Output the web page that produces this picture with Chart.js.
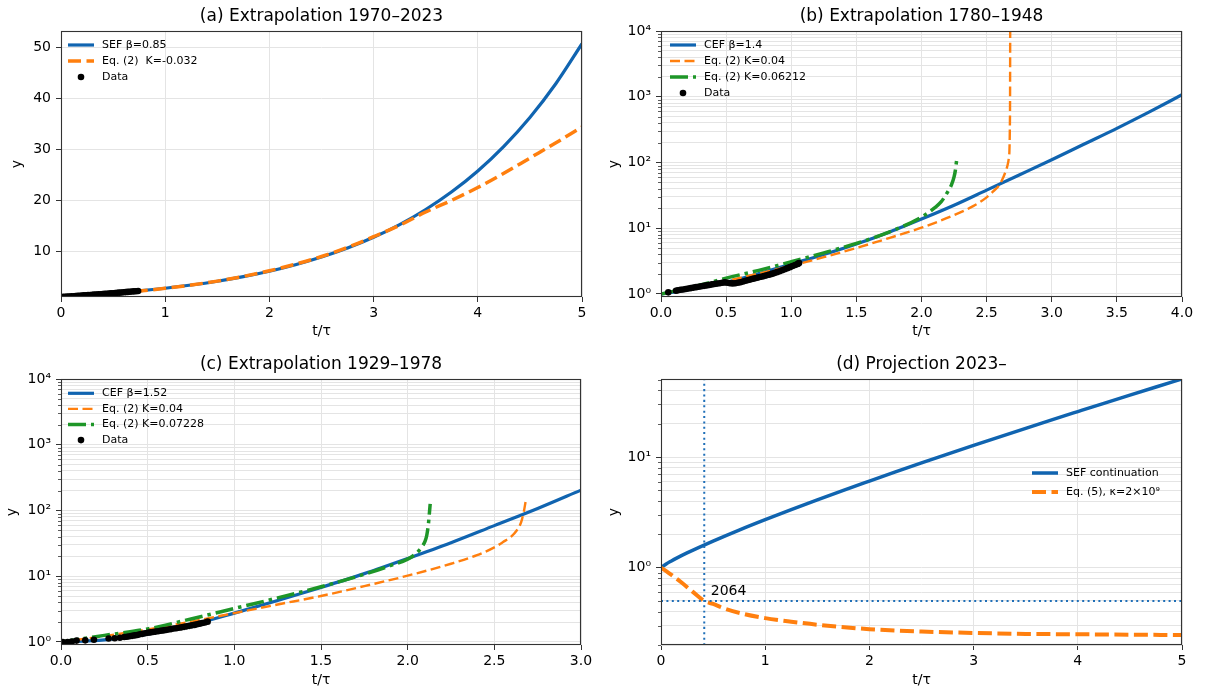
<!DOCTYPE html>
<html>
<head>
<meta charset="utf-8">
<script src="https://cdn.jsdelivr.net/npm/chart.js@4/dist/chart.umd.min.js"></script>
<style>
html,body{margin:0;padding:0;background:#fff;}
#wrap{position:relative;width:1205px;height:690px;overflow:hidden;background:#fff;}
canvas{position:absolute;}
</style>
</head>
<body>
<div id="wrap">
<canvas id="cA" width="600" height="340" style="left:0px;top:0px"></canvas>
<canvas id="cB" width="605" height="340" style="left:600px;top:0px"></canvas>
<canvas id="cC" width="600" height="350" style="left:0px;top:340px"></canvas>
<canvas id="cD" width="605" height="350" style="left:600px;top:340px"></canvas>
</div>
<script>
// ================= DATA =================
// Panel (a) Extrapolation 1970–2023
const titleA = '(a) Extrapolation 1970–2023';
const sefT = [0, 0.05, 0.1, 0.15, 0.25, 0.5, 0.75, 1, 1.25, 1.5, 1.75, 2, 2.25, 2.5, 2.75, 3, 3.25, 3.5, 3.75, 4, 4.25, 4.5, 4.75, 5];
const sefY = [1, 1.08, 1.15, 1.22, 1.36, 1.74, 2.19, 2.72, 3.35, 4.10, 5.00, 6.06, 7.33, 8.84, 10.62, 12.73, 15.23, 18.19, 21.67, 25.76, 30.60, 36.27, 42.94, 50.75];
const eq2aT = [0, 0.25, 0.5, 0.75, 1, 1.25, 1.5, 1.75, 2, 2.25, 2.5, 2.75, 3, 3.25, 3.5, 3.75, 4, 4.25, 4.5, 4.75, 5];
const eq2aY = [1, 1.33, 1.72, 2.17, 2.7, 3.35, 4.12, 5.05, 6.15, 7.45, 8.95, 10.75, 12.85, 15.1, 17.7, 20.0, 22.5, 25.3, 28.3, 31.3, 34.4];
const dataAT = [0, 0.02, 0.04, 0.06, 0.08, 0.10, 0.12, 0.14, 0.16, 0.18, 0.20, 0.22, 0.24, 0.26, 0.28, 0.30, 0.32, 0.34, 0.36, 0.38, 0.40, 0.42, 0.44, 0.46, 0.48, 0.50, 0.52, 0.54, 0.56, 0.58, 0.60, 0.62, 0.64, 0.66, 0.68, 0.70, 0.72, 0.74];
const dataAY = [1.00, 1.03, 1.05, 1.08, 1.11, 1.13, 1.16, 1.19, 1.22, 1.25, 1.28, 1.31, 1.33, 1.36, 1.40, 1.43, 1.46, 1.49, 1.52, 1.55, 1.58, 1.62, 1.65, 1.68, 1.72, 1.75, 1.78, 1.82, 1.85, 1.89, 1.92, 1.96, 2.00, 2.03, 2.07, 2.11, 2.14, 2.18];
const labelsA = ['SEF β=0.85', 'Eq. (2)  K=-0.032', 'Data'];
const xTicksA = [0, 1, 2, 3, 4, 5];
const yTicksA = [10, 20, 30, 40, 50];
const xRangeA = [0, 5];
const yRangeA = [1, 53.25];

// Panel (b) Extrapolation 1780–1948
const titleB = '(b) Extrapolation 1780–1948';
const cefBT = [0, 0.25, 0.5, 0.75, 1, 1.25, 1.5, 1.75, 2, 2.25, 2.5, 2.75, 3, 3.25, 3.5, 3.75, 4];
const cefBY = [1, 1.20, 1.51, 2.04, 2.85, 3.98, 5.75, 8.71, 13.8, 22.4, 38.0, 64.6, 110, 191, 331, 589, 1072];
const eq2bT = [0, 0.25, 0.5, 0.75, 1, 1.25, 1.5, 1.75, 2, 2.25, 2.4, 2.5, 2.55, 2.6, 2.62, 2.64, 2.66, 2.67, 2.675, 2.678, 2.68, 2.681];
const eq2bY = [1, 1.23, 1.58, 2.04, 2.69, 3.63, 5.01, 7.08, 10.2, 15.8, 21.9, 29.5, 36.3, 46, 55, 68, 90, 115, 150, 300, 1000, 12000];
const eq2gBT = [0, 0.25, 0.5, 0.75, 1, 1.25, 1.5, 1.75, 2, 2.1, 2.15, 2.2, 2.23, 2.25, 2.26, 2.27];
const eq2gBY = [1, 1.29, 1.74, 2.29, 3.09, 4.22, 5.89, 8.71, 14.8, 20.4, 25.1, 35.5, 45.7, 60.3, 75.9, 109.6];
const dataBT = [0.056, 0.115, 0.13, 0.15, 0.17, 0.19, 0.21, 0.23, 0.25, 0.27, 0.29, 0.31, 0.33, 0.35, 0.37, 0.39, 0.41, 0.43, 0.45, 0.47, 0.49, 0.51, 0.53, 0.55, 0.57, 0.59, 0.61, 0.63, 0.65, 0.67, 0.69, 0.71, 0.73, 0.75, 0.77, 0.79, 0.81, 0.83, 0.85, 0.87, 0.89, 0.91, 0.93, 0.95, 0.97, 0.99, 1.01, 1.03, 1.05, 1.06];
const dataBY = [1.06, 1.12, 1.14, 1.16, 1.17, 1.19, 1.21, 1.23, 1.25, 1.27, 1.29, 1.31, 1.33, 1.35, 1.37, 1.40, 1.42, 1.44, 1.46, 1.48, 1.50, 1.48, 1.46, 1.45, 1.46, 1.48, 1.51, 1.55, 1.59, 1.63, 1.67, 1.71, 1.75, 1.79, 1.83, 1.87, 1.92, 1.97, 2.02, 2.08, 2.15, 2.22, 2.30, 2.38, 2.47, 2.56, 2.66, 2.76, 2.87, 2.95];
const labelsB = ['CEF β=1.4', 'Eq. (2) K=0.04', 'Eq. (2) K=0.06212', 'Data'];
const xTicksB = [0, 0.5, 1, 1.5, 2, 2.5, 3, 3.5, 4];
const decadesB = [1, 10, 100, 1000, 10000];
const xRangeB = [0, 4];
const yRangeB = [0.9, 10000];

// Panel (c) Extrapolation 1929–1978
const titleC = '(c) Extrapolation 1929–1978';
const cefCT = [0, 0.25, 0.5, 0.75, 1, 1.25, 1.5, 1.75, 2, 2.25, 2.5, 2.75, 3];
const cefCY = [1, 1.08, 1.32, 1.82, 2.75, 4.27, 6.76, 10.96, 18.62, 32.36, 58.88, 107.2, 204.2];
const eq2cT = [0, 0.25, 0.5, 0.75, 1, 1.25, 1.5, 1.75, 2, 2.25, 2.4, 2.5, 2.55, 2.6, 2.63, 2.65, 2.66, 2.67, 2.68];
const eq2cY = [1, 1.23, 1.55, 2.04, 2.75, 3.72, 5.01, 7.08, 10.2, 15.5, 20.9, 27.5, 33.1, 40.7, 50.1, 61.7, 74.1, 95.5, 134.9];
const eq2gCT = [0, 0.25, 0.5, 0.75, 1, 1.25, 1.5, 1.75, 1.9, 2, 2.05, 2.08, 2.1, 2.11, 2.12, 2.125, 2.13];
const eq2gCY = [1, 1.26, 1.58, 2.24, 3.24, 4.68, 6.92, 10.7, 14.5, 18.2, 22.4, 27.5, 33.9, 41.7, 63.1, 89.1, 125.9];
const dataCT = [0.01, 0.038, 0.063, 0.09, 0.14, 0.19, 0.275, 0.31, 0.34, 0.365, 0.38, 0.395, 0.41, 0.425, 0.44, 0.455, 0.47, 0.485, 0.5, 0.515, 0.53, 0.545, 0.56, 0.575, 0.59, 0.605, 0.62, 0.635, 0.65, 0.665, 0.68, 0.695, 0.71, 0.725, 0.74, 0.755, 0.77, 0.785, 0.8, 0.815, 0.83, 0.846];
const dataCY = [1.00, 1.00, 1.02, 1.05, 1.06, 1.08, 1.13, 1.14, 1.16, 1.19, 1.20, 1.22, 1.24, 1.26, 1.28, 1.31, 1.33, 1.36, 1.38, 1.40, 1.42, 1.44, 1.46, 1.48, 1.50, 1.52, 1.55, 1.57, 1.60, 1.62, 1.65, 1.67, 1.70, 1.73, 1.76, 1.79, 1.82, 1.86, 1.90, 1.94, 1.98, 2.04];
const labelsC = ['CEF β=1.52', 'Eq. (2) K=0.04', 'Eq. (2) K=0.07228', 'Data'];
const xTicksC = [0, 0.5, 1, 1.5, 2, 2.5, 3];
const decadesC = [1, 10, 100, 1000, 10000];
const xRangeC = [0, 3];
const yRangeC = [0.9, 10000];

// Panel (d) Projection 2023–
const titleD = '(d) Projection 2023–';
const eq5T = [0, 0.05, 0.1, 0.2, 0.3, 0.415, 0.5, 0.6, 0.8, 1, 1.25, 1.5, 2, 2.5, 3, 3.5, 4, 4.5, 5];
const eq5Y = [1, 0.93, 0.86, 0.73, 0.61, 0.5, 0.47, 0.43, 0.38, 0.35, 0.325, 0.305, 0.278, 0.265, 0.257, 0.252, 0.25, 0.248, 0.246];
const labelsD = ['SEF continuation', 'Eq. (5), κ=2×10⁹'];
const markerT = 0.415;      // year 2064
const thresholdY = 0.5;
const markerText = '2064';
const markerTextAt = [0.478, 0.568];
const xTicksD = [0, 1, 2, 3, 4, 5];
const decadesD = [0.1, 1, 10];
const xRangeD = [0, 5];
const yRangeD = [0.2, 50.75];

const minorMult = [1, 2, 3, 4, 5, 6, 7, 8, 9];
const supDigits = {'-1': '⁻¹', '0': '⁰', '1': '¹', '2': '²', '3': '³', '4': '⁴', '5': '⁵'};

// ================= STYLE =================
const FONT = "'DejaVu Sans', sans-serif";
Chart.defaults.font.family = FONT;
Chart.defaults.color = '#000';
const BLUE = '#1064b0', ORANGE = '#ff7f0e', GREEN = '#1e9628', DOTBLUE = '#1f6fb8';
const GRID = '#e4e4e4';
const TICKC = '#333';

// ================= HELPERS =================
const pts = (xs, ys) => xs.map((x, i) => ({x: x, y: ys[i]}));
const isPow10 = v => Math.abs(Math.log10(v) - Math.round(Math.log10(v))) < 1e-9;
function logTicks(decades, lo, hi) {
  const out = [];
  decades.forEach(d => minorMult.forEach(m => {
    const v = m * d;
    if (v >= lo * 0.9999 && v <= hi * 1.0001) out.push(v);
  }));
  return out;
}
const logLabel = v => isPow10(v) ? '10' + supDigits[String(Math.round(Math.log10(v)))] : '';

function lineDs(label, xs, ys, color, width, dash, order) {
  return {label: label, data: pts(xs, ys), borderColor: color, backgroundColor: color,
    borderWidth: width, borderDash: dash, pointRadius: 0, showLine: true, fill: false,
    cubicInterpolationMode: 'monotone', borderJoinStyle: 'round', clip: 0, order: order};
}
function dotDs(label, xs, ys, order) {
  return {label: label, data: pts(xs, ys), showLine: false, pointRadius: 3.3,
    pointBackgroundColor: '#000', pointBorderWidth: 0, borderColor: '#000', backgroundColor: '#000',
    clip: 0, order: order};
}

// frame (matplotlib spines) + short minor tick marks on log axes
const framePlugin = {
  id: 'frame',
  afterDatasetsDraw(chart) {
    const a = chart.chartArea, ctx = chart.ctx;
    ctx.save();
    ctx.strokeStyle = TICKC;
    ctx.setLineDash([]);
    const ys = chart.scales.y;
    if (ys.type === 'logarithmic') {
      ctx.lineWidth = 0.8;
      ys.ticks.forEach(t => {
        if (isPow10(t.value)) return;
        const py = Math.round(ys.getPixelForValue(t.value)) + 0.5;
        ctx.beginPath();
        ctx.moveTo(a.left - 3, py);
        ctx.lineTo(a.left, py);
        ctx.stroke();
      });
    }
    ctx.lineWidth = 1.1;
    const l = Math.round(a.left) + 0.5, t = Math.round(a.top) + 0.5;
    const r = Math.round(a.right) - 0.5, b = Math.round(a.bottom) - 0.5;
    ctx.strokeRect(l, t, r - l, b - t);
    ctx.restore();
  }
};

// matplotlib-like legend inside the axes
const mplLegendPlugin = {
  id: 'mplLegend',
  afterDraw(chart, args, opts) {
    if (!opts || opts.x === undefined) return;
    const a = chart.chartArea, ctx = chart.ctx;
    const x0 = a.left + opts.x;
    let y = a.top + opts.y;
    ctx.save();
    ctx.font = '11px ' + FONT;
    ctx.textBaseline = 'middle';
    ctx.textAlign = 'left';
    chart.data.datasets.forEach(ds => {
      if (!ds.label) return;
      if (ds.showLine === false) {
        ctx.fillStyle = '#000';
        ctx.beginPath();
        ctx.arc(x0 + 13, y, ds.pointRadius, 0, Math.PI * 2);
        ctx.fill();
      } else {
        ctx.strokeStyle = ds.borderColor;
        ctx.lineWidth = ds.borderWidth;
        ctx.setLineDash(ds.borderDash || []);
        ctx.lineCap = 'butt';
        ctx.beginPath();
        ctx.moveTo(x0, y);
        ctx.lineTo(x0 + 26, y);
        ctx.stroke();
        ctx.setLineDash([]);
      }
      ctx.fillStyle = '#000';
      ctx.fillText(ds.label, x0 + 34, y);
      y += opts.gap;
    });
    ctx.restore();
  }
};

// text annotation in data coordinates
const annotPlugin = {
  id: 'annot',
  afterDatasetsDraw(chart, args, opts) {
    if (!opts || !opts.text) return;
    const ctx = chart.ctx;
    const x = chart.scales.x.getPixelForValue(opts.at[0]);
    const y = chart.scales.y.getPixelForValue(opts.at[1]);
    ctx.save();
    ctx.font = '14px ' + FONT;
    ctx.fillStyle = '#000';
    ctx.textAlign = 'left';
    ctx.textBaseline = 'alphabetic';
    ctx.fillText(opts.text, x, y);
    ctx.restore();
  }
};

function makeChart(id, c) {
  const isLog = c.yType === 'logarithmic';
  return new Chart(document.getElementById(id), {
    type: 'line',
    data: {datasets: c.datasets},
    options: {
      responsive: false, animation: false, devicePixelRatio: 1,
      events: [],
      layout: {padding: {left: 0, right: c.padRight, top: 0, bottom: 0}},
      plugins: {
        legend: {display: false},
        tooltip: {enabled: false},
        title: {display: true, text: c.title, fullSize: false, color: '#000',
          font: {size: 17, weight: 'normal', family: FONT},
          padding: {top: c.titleTop, bottom: c.titleBottom}},
        mplLegend: c.legend,
        annot: c.annot || {}
      },
      scales: {
        x: {
          type: 'linear', min: c.xRange[0], max: c.xRange[1],
          afterFit: s => { s.height = c.xAxisH; },
          afterBuildTicks: s => { s.ticks = c.xTicks.map(v => ({value: v})); },
          ticks: {autoSkip: false, maxRotation: 0, font: {size: 14}, color: '#000', padding: 3,
            callback: v => c.xFmt(v)},
          grid: {color: GRID, lineWidth: 1, tickColor: TICKC, tickLength: 5, drawTicks: true},
          border: {display: false},
          title: {display: true, text: 't/τ', color: '#000', font: {size: 14},
            padding: {top: 0, bottom: c.xTitleBottom}}
        },
        y: {
          type: c.yType, min: c.yRange[0], max: c.yRange[1],
          afterFit: s => { s.width = 61; },
          afterBuildTicks: s => { s.ticks = c.yTicks.map(v => ({value: v})); },
          ticks: {autoSkip: false, font: {size: 14}, color: '#000', padding: 5,
            callback: v => c.yFmt(v)},
          grid: {color: GRID, lineWidth: 1, tickLength: 5, drawTicks: true,
            tickColor: ctx => (!isLog || (ctx.tick && isPow10(ctx.tick.value))) ? TICKC : 'rgba(0,0,0,0)'},
          border: {display: false},
          title: {display: true, text: 'y', color: '#000', font: {size: 14},
            padding: {top: c.yTitlePad, bottom: 0}}
        }
      }
    },
    plugins: [framePlugin, annotPlugin, mplLegendPlugin]
  });
}

const fmtInt = v => String(v);
const fmt1 = v => v.toFixed(1);

// ---- (a)
makeChart('cA', {
  title: titleA, padRight: 18, titleTop: 6, titleBottom: 4.6, xAxisH: 43, xTitleBottom: 0, yTitlePad: 9.4,
  xRange: xRangeA, yRange: yRangeA, yType: 'linear', xTicks: xTicksA, yTicks: yTicksA,
  xFmt: fmtInt, yFmt: fmtInt,
  legend: {x: 7, y: 14, gap: 16},
  datasets: [
    lineDs(labelsA[0], sefT, sefY, BLUE, 3.2, [], 2),
    lineDs(labelsA[1], eq2aT, eq2aY, ORANGE, 3.5, [13, 5.5], 1),
    dotDs(labelsA[2], dataAT, dataAY, 0)
  ]
});

// ---- (b)
makeChart('cB', {
  title: titleB, padRight: 23, titleTop: 6, titleBottom: 4.6, xAxisH: 43, xTitleBottom: 0, yTitlePad: 5.7,
  xRange: xRangeB, yRange: yRangeB, yType: 'logarithmic', xTicks: xTicksB,
  yTicks: logTicks(decadesB, yRangeB[0], yRangeB[1]),
  xFmt: fmt1, yFmt: logLabel,
  legend: {x: 9, y: 14, gap: 16},
  datasets: [
    lineDs(labelsB[0], cefBT, cefBY, BLUE, 3.2, [], 3),
    lineDs(labelsB[1], eq2bT, eq2bY, ORANGE, 2.4, [10, 4.5], 2),
    lineDs(labelsB[2], eq2gBT, eq2gBY, GREEN, 3.5, [18, 5, 3.5, 5], 1),
    dotDs(labelsB[3], dataBT, dataBY, 0)
  ]
});

// ---- (c)
makeChart('cC', {
  title: titleC, padRight: 19, titleTop: 14, titleBottom: 4.6, xAxisH: 45, xTitleBottom: 1, yTitlePad: 4.2,
  xRange: xRangeC, yRange: yRangeC, yType: 'logarithmic', xTicks: xTicksC,
  yTicks: logTicks(decadesC, yRangeC[0], yRangeC[1]),
  xFmt: fmt1, yFmt: logLabel,
  legend: {x: 7, y: 14.3, gap: 15.6},
  datasets: [
    lineDs(labelsC[0], cefCT, cefCY, BLUE, 3.2, [], 3),
    lineDs(labelsC[1], eq2cT, eq2cY, ORANGE, 2.4, [10, 4.5], 2),
    lineDs(labelsC[2], eq2gCT, eq2gCY, GREEN, 3.5, [18, 5, 3.5, 5], 1),
    dotDs(labelsC[3], dataCT, dataCY, 0)
  ]
});

// ---- (d)
makeChart('cD', {
  title: titleD, padRight: 23, titleTop: 14, titleBottom: 4.6, xAxisH: 45, xTitleBottom: 1, yTitlePad: 5.8,
  xRange: xRangeD, yRange: yRangeD, yType: 'logarithmic', xTicks: xTicksD,
  yTicks: logTicks(decadesD, yRangeD[0], yRangeD[1]),
  xFmt: fmtInt, yFmt: logLabel,
  legend: {x: 371, y: 94, gap: 19},
  annot: {text: markerText, at: markerTextAt},
  datasets: [
    lineDs(labelsD[0], sefT, sefY, BLUE, 3.5, [], 2),
    lineDs(labelsD[1], eq5T, eq5Y, ORANGE, 4, [14, 5.5], 1),
    lineDs('', [markerT, markerT], [yRangeD[0], yRangeD[1]], DOTBLUE, 2, [2, 3.4], 0),
    lineDs('', [xRangeD[0], xRangeD[1]], [thresholdY, thresholdY], DOTBLUE, 2, [2, 3.4], 0)
  ]
});
</script>
</body>
</html>
